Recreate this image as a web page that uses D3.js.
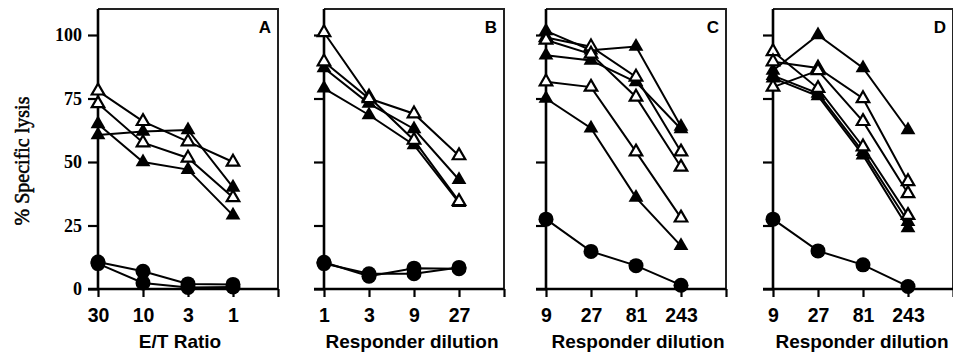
<!DOCTYPE html>
<html>
<head>
<meta charset="utf-8">
<script src="https://cdn.jsdelivr.net/npm/d3@7"></script>
<style>
  body { margin: 0; background: #fff; }
  svg { display: block; }
</style>
</head>
<body>
<div id="chart"></div>
<script>
// tick labels
const yTicks = [0, 25, 50, 75, 100];
const xLabelsA = ["30", "10", "3", "1"];
const xLabelsB = ["1", "3", "9", "27"];
const xLabelsCD = ["9", "27", "81", "243"];
const panelNames = ["A", "B", "C", "D"];
const xTitles = ["E/T Ratio", "Responder dilution", "Responder dilution", "Responder dilution"];

// % specific lysis, one value per x position
const openA = [[78, 66, 58, 50], [73, 57.6, 51.6, 36]];
const filledA = [[60.6, 62, 62.6, 40], [65, 50, 47, 29]];
const circleA = [[10.6, 7, 2, 1.8], [10, 2.4, 0.6, 0.8]];

const openB = [[101, 75.6, 58.6, 34.5], [89.5, 75, 69, 52.5]];
const filledB = [[87, 73, 63, 43], [79, 68.5, 56.7, 34]];
const circleB = [[10.5, 5, 8.2, 8], [10, 6, 6, 8.5]];

const openC = [[99, 95.4, 83.5, 54], [98, 92.5, 75.6, 48], [81.6, 79.5, 54, 28]];
const filledC = [[101.6, 94, 95.5, 64], [92, 90, 81.5, 63], [75, 63.3, 36, 17]];
const circleC = [[27.5, 14.8, 9.2, 1.5]];

const openD = [[93.5, 79, 56, 29], [89.5, 87, 75, 42.3], [79.5, 86, 66, 37.6]];
const filledD = [[86, 100, 87, 62.6], [84, 77, 54, 26.5], [83, 76, 52.7, 24]];
const circleD = [[27.5, 15, 9.5, 1]];

const panels = [
  {labels: xLabelsA, open: openA, filled: filledA, circle: circleA},
  {labels: xLabelsB, open: openB, filled: filledB, circle: circleB},
  {labels: xLabelsCD, open: openC, filled: filledC, circle: circleC},
  {labels: xLabelsCD, open: openD, filled: filledD, circle: circleD}
];

const W = 953, H = 354;
const panelLeft = [98, 324, 546, 773];
const panelW = 180;
const plotTop = 9, plotBottom = 289;
const titleX = [180, 412, 638, 862];

const svg = d3.select("#chart").append("svg")
    .attr("width", W)
    .attr("height", H);

svg.append("rect").attr("width", W).attr("height", H).attr("fill", "#fff");

const y = d3.scaleLinear().domain([0, 100]).range([plotBottom, 35]);

// y axis title
svg.append("text")
    .attr("transform", `translate(29,${(plotTop + plotBottom) / 2 + 12}) rotate(-90)`)
    .attr("text-anchor", "middle")
    .attr("font-family", "'Liberation Serif', 'Times New Roman', serif")
    .attr("font-size", 20)
    .attr("stroke", "#000")
    .attr("stroke-width", 0.5)
    .text("% Specific lysis");

const tri = d3.symbol().type(d3.symbolTriangle);

panels.forEach((p, pi) => {
    const x = d3.scaleLinear().domain([0, 4]).range([panelLeft[pi], panelLeft[pi] + panelW]);
    const g = svg.append("g");

    // box top and right
    g.append("path")
        .attr("d", `M${x(0)},${plotTop}H${x(4)}V${plotBottom}`)
        .attr("fill", "none")
        .attr("stroke", "#222")
        .attr("stroke-width", 2);

    const yAxis = d3.axisLeft(y).tickValues(yTicks).tickSize(10).tickSizeOuter(0).tickPadding(6)
        .tickFormat(pi === 0 ? d3.format("d") : "");
    const ya = g.append("g").attr("transform", `translate(${x(0)},0)`).call(yAxis);
    ya.select(".domain").remove();
    ya.selectAll("line").attr("stroke", "#000").attr("stroke-width", 2.2);
    ya.selectAll("text")
        .attr("font-family", "'Liberation Serif', 'Times New Roman', serif")
        .attr("font-weight", "bold")
        .attr("font-size", 18)
        .attr("fill", "#000");

    const xAxis = d3.axisBottom(x).tickValues([0, 1, 2, 3, 4]).tickSize(8).tickSizeOuter(0).tickPadding(11)
        .tickFormat(i => p.labels[i] || "");
    const xa = g.append("g").attr("transform", `translate(0,${plotBottom})`).call(xAxis);
    xa.select(".domain").remove();
    xa.selectAll("line").attr("stroke", "#000").attr("stroke-width", 2.2);
    xa.selectAll("text")
        .attr("font-family", "'Liberation Sans', Arial, sans-serif")
        .attr("font-weight", "bold")
        .attr("font-size", 19.5)
        .attr("fill", "#000");

    // axis lines
    g.append("line")
        .attr("x1", x(0)).attr("x2", x(0)).attr("y1", plotTop).attr("y2", plotBottom)
        .attr("stroke", "#000").attr("stroke-width", 2.6);
    g.append("line")
        .attr("x1", x(0) - 10).attr("x2", x(4)).attr("y1", plotBottom).attr("y2", plotBottom)
        .attr("stroke", "#000").attr("stroke-width", 2.6);

    // panel letter
    g.append("text")
        .attr("x", x(4) - 7)
        .attr("y", 33)
        .attr("text-anchor", "end")
        .attr("font-family", "'Liberation Sans', Arial, sans-serif")
        .attr("font-weight", "bold")
        .attr("font-size", 17)
        .text(panelNames[pi]);

    // x title
    g.append("text")
        .attr("x", titleX[pi])
        .attr("y", 348)
        .attr("text-anchor", "middle")
        .attr("font-family", "'Liberation Sans', Arial, sans-serif")
        .attr("font-weight", "bold")
        .attr("font-size", 19)
        .text(xTitles[pi]);

    const line = d3.line().x((d, i) => x(i)).y(d => y(d));
    const all = [...p.circle, ...p.filled, ...p.open];
    g.selectAll("path.series").data(all).enter()
        .append("path")
        .attr("class", "series")
        .attr("d", line)
        .attr("fill", "none")
        .attr("stroke", "#000")
        .attr("stroke-width", 2);

    p.circle.forEach(s => {
        g.selectAll(null).data(s).enter().append("circle")
            .attr("cx", (d, i) => x(i))
            .attr("cy", d => y(d))
            .attr("r", 7.5)
            .attr("fill", "#000");
    });
    p.filled.forEach(s => {
        g.selectAll(null).data(s).enter().append("path")
            .attr("d", tri.size(95))
            .attr("transform", (d, i) => `translate(${x(i)},${y(d)})`)
            .attr("fill", "#000");
    });
    p.open.forEach(s => {
        g.selectAll(null).data(s).enter().append("path")
            .attr("d", tri.size(68))
            .attr("transform", (d, i) => `translate(${x(i)},${y(d)})`)
            .attr("fill", "#fff")
            .attr("stroke", "#000")
            .attr("stroke-width", 2.2);
    });
});
</script>
</body>
</html>
